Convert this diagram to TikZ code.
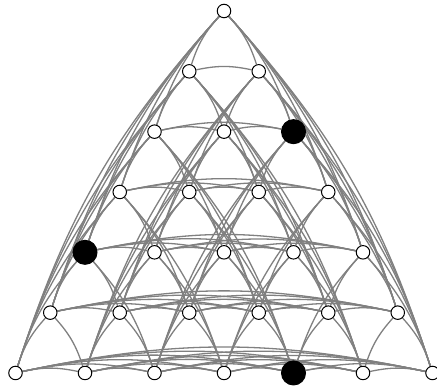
\documentclass[tikz,border=0pt]{standalone}
\usetikzlibrary{backgrounds}
\begin{document}
\begin{tikzpicture}[x=1pt,y=1pt,
  edge/.style={draw=gray, line width=1.3pt},
  vtx/.style={circle, draw=black, fill=white, inner sep=0pt, minimum size=13.5pt, line width=1pt},
  blk/.style={vtx, fill=black, minimum size=24pt}]
\useasboundingbox (0,0) rectangle (437,388);
\foreach \r in {0,...,6}{
  \foreach \k in {0,...,\r}{
    \pgfmathtruncatemacro\code{10*\r+\k}
    \pgfmathsetmacro\px{224+(\k-\r/2)*69.5}
    \pgfmathsetmacro\py{388-11-\r*60.33}
    \ifnum\code=22
      \node[blk] (n\r-\k) at (\px,\py) {};
    \else\ifnum\code=40
      \node[blk] (n\r-\k) at (\px,\py) {};
    \else\ifnum\code=64
      \node[blk] (n\r-\k) at (\px,\py) {};
    \else
      \node[vtx] (n\r-\k) at (\px,\py) {};
    \fi\fi\fi
  }
}
\begin{scope}[on background layer]
% rows
\foreach \r in {1,...,6}{
  \foreach \a in {0,...,\r}{
    \foreach \b in {\a,...,\r}{
      \ifnum\b>\a
        \draw[edge] (n\r-\a) to[bend left=12] (n\r-\b);
      \fi
    }
  }
}
% left diagonals (same k)
\foreach \k in {0,...,5}{
  \foreach \a in {\k,...,6}{
    \foreach \b in {\a,...,6}{
      \ifnum\b>\a
        \draw[edge] (n\b-\k) to[bend left=12] (n\a-\k);
      \fi
    }
  }
}
% right diagonals (same r-k)
\foreach \d in {0,...,5}{
  \foreach \a in {\d,...,6}{
    \foreach \b in {\a,...,6}{
      \ifnum\b>\a
        \pgfmathtruncatemacro\ka{\a-\d}
        \pgfmathtruncatemacro\kb{\b-\d}
        \draw[edge] (n\a-\ka) to[bend left=12] (n\b-\kb);
      \fi
    }
  }
}
\end{scope}
\end{tikzpicture}
\end{document}
